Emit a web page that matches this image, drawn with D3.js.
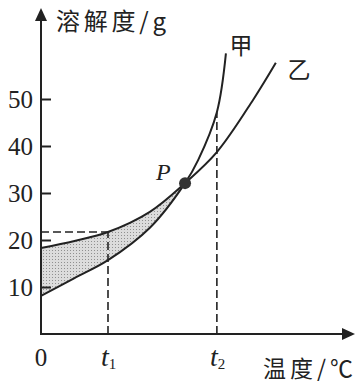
<!DOCTYPE html>
<html>
<head>
<meta charset="utf-8">
<script src="https://cdn.jsdelivr.net/npm/d3@7"></script>
<style>
  html, body { margin: 0; padding: 0; background: #fff; }
  .num { font-family: "Liberation Serif", "Times New Roman", serif; }
  .cjk { font-family: "Noto Sans CJK SC", sans-serif; }
</style>
</head>
<body>
<div id="chart"></div>
<script>
// curve data: temperature (arbitrary units, t1 = 20) vs solubility (g)
var tempJia = [0, 10, 20, 32.5, 43, 46.9, 52.5, 55.2];
var solJia  = [8.1, 11.9, 15.7, 22.6, 32.1, 37, 47.2, 59.7];
var tempYi  = [0, 10, 20, 32.5, 43, 52.5, 63.3, 70.1];
var solYi   = [18.3, 19.8, 21.7, 26, 32.1, 38.7, 49.8, 57.7];
var yTicks  = [10, 20, 30, 40, 50];
var t1 = 20, t2 = 52.5;
var pointP = [43, 32.1];
var solT1 = 21.7, solT2 = 47.2;

var width = 361, height = 383;
var ink = '#222';

var x = d3.scaleLinear().domain([0, 20]).range([41, 108]);
var y = d3.scaleLinear().domain([0, 50]).range([334, 99]);

var jia = tempJia.map((t, i) => [t, solJia[i]]);
var yi = tempYi.map((t, i) => [t, solYi[i]]);
var curve = d3.curveCatmullRom.alpha(0.5);

var svg = d3.select('#chart').append('svg')
  .attr('width', width)
  .attr('height', height);

var defs = svg.append('defs');
var pat = defs.append('pattern')
  .attr('id', 'dots')
  .attr('patternUnits', 'userSpaceOnUse')
  .attr('width', 3).attr('height', 3);
pat.append('rect').attr('width', 3).attr('height', 3).attr('fill', '#dcdcdc');
pat.append('rect').attr('x', 1).attr('y', 1).attr('width', 1).attr('height', 1).attr('fill', '#909090');

// region above 甲 used to clip the area under 乙
defs.append('clipPath').attr('id', 'aboveJia')
  .append('path')
  .attr('d', d3.area().curve(curve)
    .x(d => x(d[0])).y0(0).y1(d => y(d[1]))(jia));

svg.append('path')
  .attr('d', d3.area().curve(curve)
    .x(d => x(d[0])).y0(y(0)).y1(d => y(d[1]))(yi))
  .attr('fill', 'url(#dots)')
  .attr('clip-path', 'url(#aboveJia)');

// dashed guides
var dash = '8,4';
svg.append('line')
  .attr('x1', x(0)).attr('x2', x(t1)).attr('y1', y(solT1)).attr('y2', y(solT1))
  .attr('stroke', ink).attr('stroke-width', 1.6).attr('stroke-dasharray', dash);
svg.append('line')
  .attr('x1', x(t1)).attr('x2', x(t1)).attr('y1', y(0)).attr('y2', y(solT1))
  .attr('stroke', ink).attr('stroke-width', 1.6).attr('stroke-dasharray', dash);
svg.append('line')
  .attr('x1', x(t2)).attr('x2', x(t2)).attr('y1', y(0)).attr('y2', y(solT2))
  .attr('stroke', ink).attr('stroke-width', 1.6).attr('stroke-dasharray', dash);

// curves
var line = d3.line().curve(curve).x(d => x(d[0])).y(d => y(d[1]));
svg.append('path').attr('d', line(jia))
  .attr('fill', 'none').attr('stroke', ink).attr('stroke-width', 2);
svg.append('path').attr('d', line(yi))
  .attr('fill', 'none').attr('stroke', ink).attr('stroke-width', 2);

// axes
var yAxis = d3.axisLeft(y).tickValues(yTicks).tickSize(-10).tickPadding(8);
var ga = svg.append('g').attr('transform', 'translate(' + x(0) + ',0)').call(yAxis);
ga.select('.domain').remove();
ga.selectAll('.tick line').attr('stroke', ink).attr('stroke-width', 2);
ga.selectAll('.tick text')
  .attr('class', 'num').attr('font-size', 25).attr('fill', ink)
  .attr('dy', '0.34em');

svg.append('line')
  .attr('x1', x(0)).attr('x2', x(0)).attr('y1', y(0) + 1).attr('y2', 16)
  .attr('stroke', ink).attr('stroke-width', 2);
svg.append('path')
  .attr('d', 'M' + x(0) + ',8L' + (x(0) - 6) + ',21L' + (x(0) + 6) + ',21Z')
  .attr('fill', ink);
svg.append('line')
  .attr('x1', x(0) - 1).attr('x2', 346).attr('y1', y(0)).attr('y2', y(0))
  .attr('stroke', ink).attr('stroke-width', 2);
svg.append('path')
  .attr('d', 'M355,' + y(0) + 'L342,' + (y(0) - 6) + 'L342,' + (y(0) + 6) + 'Z')
  .attr('fill', ink);

// x tick labels
svg.append('text').attr('class', 'num')
  .attr('x', x(0)).attr('y', 366).attr('text-anchor', 'middle')
  .attr('font-size', 25).attr('fill', ink).text('0');
[[t1, '1'], [t2, '2']].forEach(function (d) {
  var t = svg.append('text').attr('class', 'num')
    .attr('x', x(d[0]) - 7).attr('y', 366)
    .attr('font-size', 28).attr('fill', ink);
  t.append('tspan').attr('font-style', 'italic').text('t');
  t.append('tspan').attr('font-size', 15).attr('dy', 3).text(d[1]);
});

// point P
svg.append('circle')
  .attr('cx', x(pointP[0])).attr('cy', y(pointP[1])).attr('r', 6)
  .attr('fill', '#333');
svg.append('text').attr('class', 'num')
  .attr('x', 156).attr('y', 180)
  .attr('font-size', 24).attr('font-style', 'italic').attr('fill', ink).text('P');

// titles and curve labels
svg.append('text').attr('class', 'cjk')
  .attr('x', 56).attr('y', 30).attr('font-size', 24).attr('fill', ink)
  .attr('textLength', 110).attr('lengthAdjust', 'spacing')
  .text('溶解度/g');
svg.append('text').attr('class', 'cjk')
  .attr('x', 263).attr('y', 377).attr('font-size', 23).attr('fill', ink)
  .attr('textLength', 90).attr('lengthAdjust', 'spacing')
  .text('温度/℃');
svg.append('text').attr('class', 'cjk')
  .attr('x', 241).attr('y', 54).attr('text-anchor', 'middle')
  .attr('font-size', 23).attr('fill', ink).text('甲');
svg.append('text').attr('class', 'cjk')
  .attr('x', 299).attr('y', 78).attr('text-anchor', 'middle')
  .attr('font-size', 23).attr('fill', ink).text('乙');
</script>
</body>
</html>
